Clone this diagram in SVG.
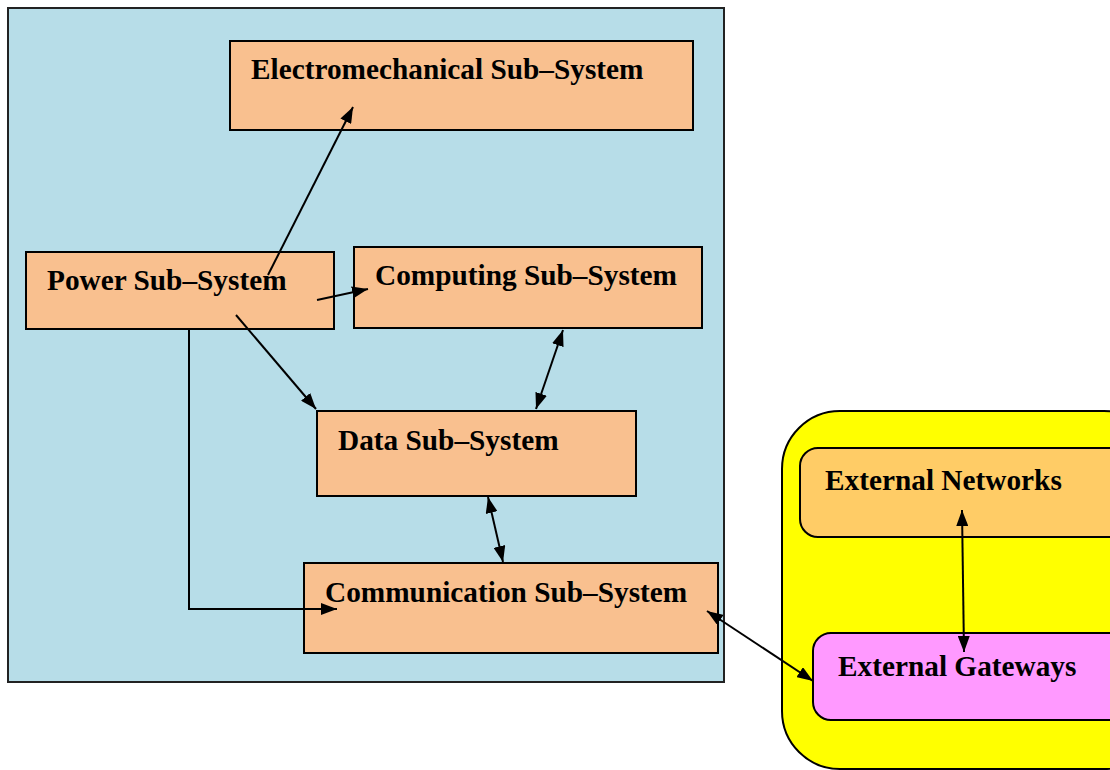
<svg xmlns="http://www.w3.org/2000/svg" width="1110" height="770" viewBox="0 0 1110 770">
<style>
.box{fill:#f9c08f;stroke:#000;stroke-width:2}
.t{font-family:"Liberation Serif","Times New Roman",serif;font-weight:bold;font-size:29.3px;fill:#000}
.c{stroke:#000;stroke-width:2;fill:none}
</style>
<defs>
<marker id="ah" viewBox="0 0 10 10" refX="10" refY="5" markerWidth="8" markerHeight="8" markerUnits="userSpaceOnUse" orient="auto-start-reverse">
<path d="M0,0 L10,5 L0,10 z" fill="#000"/>
</marker>
<marker id="a" viewBox="0 0 16 12" refX="16" refY="6" markerWidth="16" markerHeight="12" markerUnits="userSpaceOnUse" orient="auto-start-reverse">
<path d="M0,0 L16,6 L0,12 z" fill="#000"/>
</marker>
</defs>
<rect width="1110" height="770" fill="#fff"/>
<g id="container">
<rect x="8" y="8" width="716" height="674" fill="#b7dde8" stroke="#222" stroke-width="2"/>
</g>
<g id="external">
<rect x="782" y="411" width="380" height="358" rx="58" ry="58" fill="#ffff00" stroke="#000" stroke-width="2"/>
</g>
<g id="electromechanical">
<rect class="box" x="230" y="41" width="463" height="89"/>
<text class="t" x="251" y="79">Electromechanical Sub–System</text>
</g>
<g id="power">
<rect class="box" x="26" y="252" width="308" height="77"/>
<text class="t" x="47" y="290">Power Sub–System</text>
</g>
<g id="computing">
<rect class="box" x="354" y="247" width="348" height="81"/>
<text class="t" x="375" y="285">Computing Sub–System</text>
</g>
<g id="data">
<rect class="box" x="317" y="411" width="319" height="85"/>
<text class="t" x="338" y="450">Data Sub–System</text>
</g>
<g id="communication">
<rect class="box" x="304" y="563" width="414" height="90"/>
<text class="t" x="325" y="602">Communication Sub–System</text>
</g>
<g id="networks">
<rect x="800" y="448" width="340" height="89" rx="18" ry="18" fill="#ffcc66" stroke="#000" stroke-width="2"/>
<text class="t" x="825" y="490">External Networks</text>
</g>
<g id="gateways">
<rect x="813" y="633" width="330" height="87" rx="18" ry="18" fill="#ff99ff" stroke="#000" stroke-width="2"/>
<text class="t" x="838" y="676">External Gateways</text>
</g>
<g id="connectors">
<line class="c" x1="268" y1="275" x2="353" y2="107" marker-end="url(#a)"/>
<line class="c" x1="317" y1="300" x2="368" y2="289" marker-end="url(#a)"/>
<line class="c" x1="236" y1="315" x2="316" y2="409" marker-end="url(#a)"/>
<line class="c" x1="563" y1="330" x2="536" y2="409" marker-start="url(#a)" marker-end="url(#a)"/>
<line class="c" x1="488" y1="497" x2="503" y2="562" marker-start="url(#a)" marker-end="url(#a)"/>
<polyline class="c" points="189,329 189,609 337,609" marker-end="url(#a)"/>
<line class="c" x1="707" y1="611" x2="813" y2="681" marker-start="url(#a)" marker-end="url(#a)"/>
<line class="c" x1="962" y1="510" x2="964" y2="652" marker-start="url(#a)" marker-end="url(#a)"/>
</g>
</svg>
